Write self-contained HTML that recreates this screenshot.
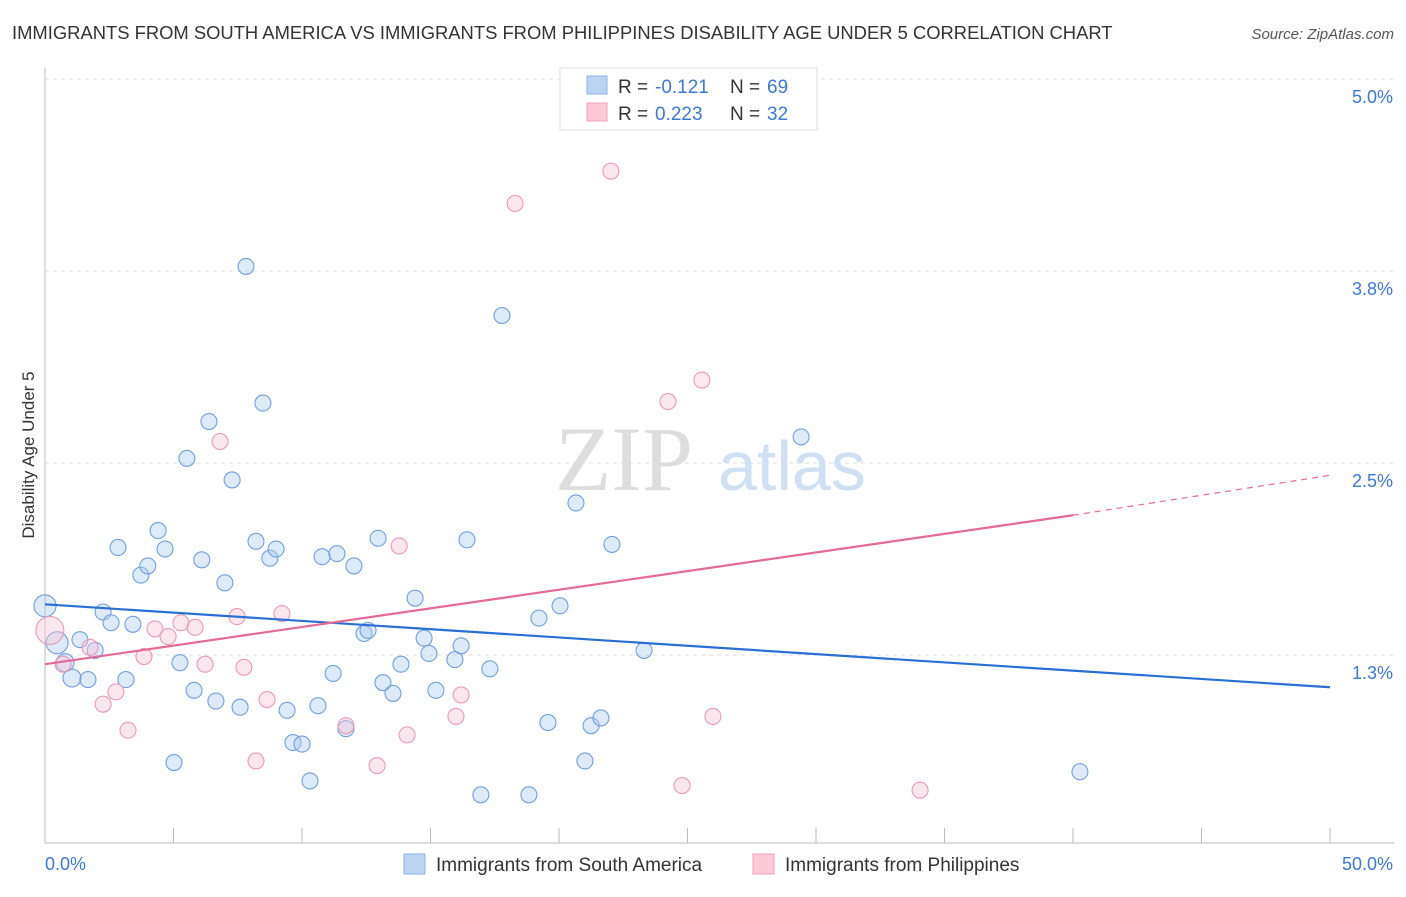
<!DOCTYPE html>
<html><head><meta charset="utf-8"><style>
body{margin:0;background:#fff;font-family:"Liberation Sans",sans-serif;}
</style></head><body>
<svg id="chart" width="1406" height="892" xmlns="http://www.w3.org/2000/svg">
<text x="12" y="39" font-size="18.4" fill="#333">IMMIGRANTS FROM SOUTH AMERICA VS IMMIGRANTS FROM PHILIPPINES DISABILITY AGE UNDER 5 CORRELATION CHART</text>
<text x="1394" y="39" font-size="15" fill="#555" font-style="italic" text-anchor="end">Source: ZipAtlas.com</text>
<g id="grid"></g>
<text x="555" y="490" font-size="92" fill="#ddd" font-family="Liberation Serif,serif">ZIP</text>
<text x="718" y="490" font-size="70" fill="#cfe0f3">atlas</text>
<text transform="translate(34,455) rotate(-90)" font-size="17" fill="#333" text-anchor="middle">Disability Age Under 5</text>
<g id="marks"></g>
<g>
<rect x="560" y="68" width="257" height="62" fill="#fff" stroke="#ddd"/>
<rect x="587" y="76" width="20" height="18" fill="#b9d3f3" stroke="#8ab3e6"/>
<rect x="587" y="103" width="20" height="18" fill="#fbc9d7" stroke="#f0a0b8"/>
<text x="618" y="93" font-size="19" fill="#333">R =</text>
<text x="655" y="93" font-size="19" fill="#3b78d8">-0.121</text>
<text x="730" y="93" font-size="19" fill="#333">N =</text>
<text x="767" y="93" font-size="19" fill="#3b78d8">69</text>
<text x="618" y="120" font-size="19" fill="#333">R =</text>
<text x="655" y="120" font-size="19" fill="#3b78d8">0.223</text>
<text x="730" y="120" font-size="19" fill="#333">N =</text>
<text x="767" y="120" font-size="19" fill="#3b78d8">32</text>
</g>
<g>
<rect x="404" y="854" width="21" height="20" fill="#b9d3f3" stroke="#8ab3e6"/>
<text x="436" y="871" font-size="19" fill="#333">Immigrants from South America</text>
<rect x="753" y="854" width="21" height="20" fill="#fbc9d7" stroke="#f0a0b8"/>
<text x="785" y="871" font-size="19" fill="#333">Immigrants from Philippines</text>
</g>
</svg>
<script>
const xTicks=[0,5,10,15,20,25,30,35,40,45,50];
const yTicks=[1.25,2.5,3.75,5.0];
const yTickLabels=["1.3%","2.5%","3.8%","5.0%"];
const blueX=[0,0.47,0.78,1.05,1.36,1.67,1.95,2.26,2.57,2.84,3.15,3.42,3.73,4.0,4.4,4.67,5.02,5.25,5.52,5.8,6.1,6.38,6.65,7.0,7.28,7.59,7.82,8.21,8.48,8.75,8.99,9.42,9.65,10.0,10.31,10.62,10.78,11.21,11.36,11.71,12.02,12.41,12.57,12.96,13.15,13.54,13.85,14.4,14.75,14.94,15.21,15.95,16.19,16.42,16.96,17.31,17.78,18.83,19.22,19.57,20.04,20.66,21.01,21.25,21.63,22.06,23.31,29.42,40.27];
const blueY=[1.57,1.33,1.2,1.1,1.35,1.09,1.28,1.53,1.46,1.95,1.09,1.45,1.77,1.83,2.06,1.94,0.55,1.2,2.53,1.02,1.87,2.77,0.95,1.72,2.39,0.91,3.78,1.99,2.89,1.88,1.94,0.89,0.68,0.67,0.43,0.92,1.89,1.13,1.91,0.77,1.83,1.39,1.41,2.01,1.07,1.0,1.19,1.62,1.36,1.26,1.02,1.22,1.31,2.0,0.34,1.16,3.46,0.34,1.49,0.81,1.57,2.24,0.56,0.79,0.84,1.97,1.28,2.67,0.49];
const pinkX=[0.19,0.7,1.75,2.26,2.76,3.23,3.85,4.28,4.79,5.29,5.84,6.23,6.81,7.47,7.74,8.21,8.64,9.22,11.71,12.92,13.78,14.09,15.99,16.19,18.29,22.02,24.24,24.79,25.56,25.99,34.05];
const pinkY=[1.41,1.19,1.3,0.93,1.01,0.76,1.24,1.42,1.37,1.46,1.43,1.19,2.64,1.5,1.17,0.56,0.96,1.52,0.79,0.53,1.96,0.73,0.85,0.99,4.19,4.4,2.9,0.4,3.04,0.85,0.37];
const blueLine=[1.58,1.04];
const pinkLine=[1.19,2.16,2.42];
const pinkSolidEnd=40;
const X0=45,X1=1330,YB=847,PPU=192/1.25;
const sx=v=>X0+(v-0)/50*(X1-X0);
const sy=v=>YB-v*PPU;
const NS="http://www.w3.org/2000/svg";
function mk(tag,attrs,parent){const e=document.createElementNS(NS,tag);for(const k in attrs)e.setAttribute(k,attrs[k]);parent.appendChild(e);return e;}
const grid=document.getElementById('grid'),marks=document.getElementById('marks');
yTicks.forEach((t,i)=>{
 const l=mk('line',{x1:45,x2:1394,y1:sy(t),y2:sy(t),stroke:'#ddd','stroke-dasharray':'4,4'},grid);
 
 
 const tx=mk('text',{x:1393,y:sy(t)+24,'font-size':18,fill:'#3b78d8','text-anchor':'end'},grid);
 tx.textContent=yTickLabels[i];
 
 
});
const xa=mk('line',{x1:45,x2:1394,y1:843,y2:843,stroke:'#bbb'},grid);


const ya=mk('line',{x1:45,x2:45,y1:68,y2:843,stroke:'#bbb'},grid);


xTicks.forEach(t=>{
 const l=mk('line',{x1:sx(t),x2:sx(t),y1:828,y2:843,stroke:'#bbb'},grid);
 
 
});
const xl0=mk('text',{x:45,y:870,'font-size':18,fill:'#3b78d8'},grid);xl0.textContent='0.0%';


const xl1=mk('text',{x:1393,y:870,'font-size':18,fill:'#3b78d8','text-anchor':'end'},grid);xl1.textContent='50.0%';


blueX.forEach((x,i)=>{
 const r=i<2?11:(i<4?9:8);
 const c=mk('circle',{cx:sx(x),cy:sy(blueY[i]),r:r,fill:'rgba(170,202,242,0.4)',stroke:'#6fa0e0','stroke-width':1.1},marks);
 
 
});
pinkX.forEach((x,i)=>{
 const r=i<1?14:8;
 const c=mk('circle',{cx:sx(x),cy:sy(pinkY[i]),r:r,fill:'rgba(248,195,212,0.4)',stroke:'#ec9ab4','stroke-width':1.1},marks);
 
 
});
const bl=mk('line',{x1:sx(0),y1:sy(blueLine[0]),x2:sx(50),y2:sy(blueLine[1]),stroke:'#2a6fd6','stroke-width':2.2},marks);


const pl=mk('line',{x1:sx(0),y1:sy(pinkLine[0]),x2:sx(pinkSolidEnd),y2:sy(pinkLine[1]),stroke:'#e66a96','stroke-width':2.2},marks);


const pd=mk('line',{x1:sx(pinkSolidEnd),y1:sy(pinkLine[1]),x2:sx(50),y2:sy(pinkLine[2]),stroke:'#e66a96','stroke-width':1.2,'stroke-dasharray':'6,5'},marks);


</script>
</body></html>
